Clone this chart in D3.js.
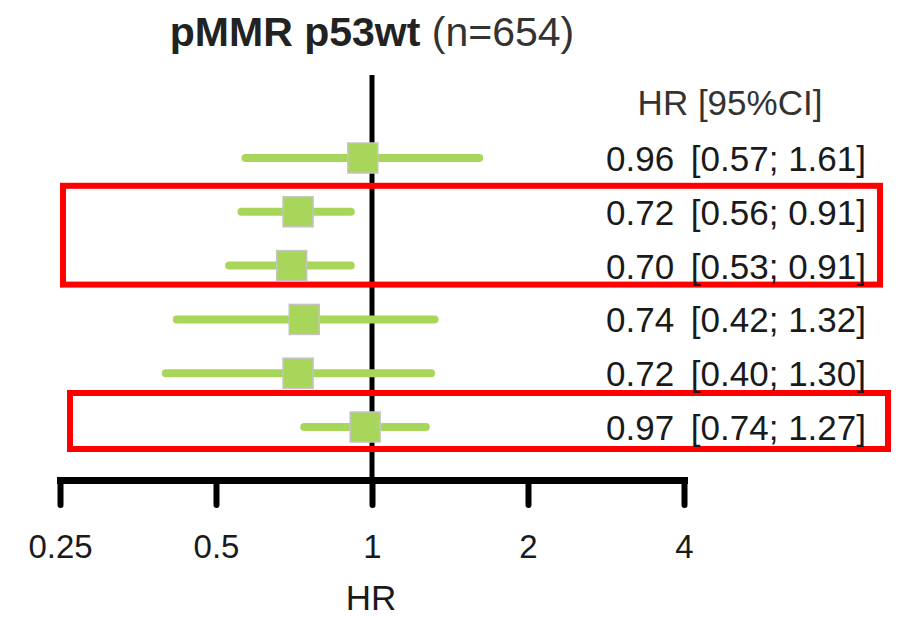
<!DOCTYPE html>
<html>
<head>
<meta charset="utf-8">
<script src="https://cdn.jsdelivr.net/npm/d3@7"></script>
<style>
    body { margin: 0; background: #fff; }
    svg text { font-family: "Liberation Sans", Arial, sans-serif; }
</style>
</head>
<body>
<svg id="forest" width="902" height="619"></svg>
<script>
// Data
const hr = [0.96, 0.72, 0.70, 0.74, 0.72, 0.97];
const ciLow = [0.57, 0.56, 0.53, 0.42, 0.40, 0.74];
const ciHigh = [1.61, 0.91, 0.91, 1.32, 1.30, 1.27];
const hrLabels = ['0.96', '0.72', '0.70', '0.74', '0.72', '0.97'];
const ciLabels = ['[0.57; 1.61]', '[0.56; 0.91]', '[0.53; 0.91]', '[0.42; 1.32]', '[0.40; 1.30]', '[0.74; 1.27]'];
const tickValues = [0.25, 0.5, 1, 2, 4];
const tickLabels = ['0.25', '0.5', '1', '2', '4'];
const highlightRows = [[1, 2], [5, 5]];

const COLOR_GREEN = '#a8d65a',
      COLOR_RED = '#ff0000',
      COLOR_TEXT = '#1a1a1a';

let d3svg = d3.select('#forest');

// Scales
let xScale = d3.scaleLog().base(2).domain([0.25, 4]).range([60, 684]);
let yScale = d3.scaleLinear().domain([0, hr.length - 1]).range([158, 427]);
let axisY = 480;

// Title
let title = d3svg.append('text')
    .attr('x', 372)
    .attr('y', 46)
    .attr('text-anchor', 'middle')
    .attr('font-size', 41)
    .attr('fill', '#222');
title.append('tspan').attr('font-weight', 'bold').text('pMMR p53wt');
title.append('tspan').attr('fill', '#333').text(' (n=654)');

// Reference line at HR = 1
d3svg.append('line')
    .attr('x1', xScale(1)).attr('x2', xScale(1))
    .attr('y1', 75).attr('y2', axisY)
    .attr('stroke', '#000')
    .attr('stroke-width', 5);

// Highlight boxes
d3svg.append('g').selectAll('rect')
    .data(highlightRows)
    .enter().append('rect')
    .attr('x', (d, i) => i === 0 ? 63 : 70)
    .attr('width', (d, i) => i === 0 ? 817 : 818)
    .attr('y', (d) => yScale(d[0]) - (d[0] === d[1] ? 34 : 26))
    .attr('height', (d) => yScale(d[1]) - yScale(d[0]) + (d[0] === d[1] ? 56 : 45))
    .attr('fill', 'none')
    .attr('stroke', COLOR_RED)
    .attr('stroke-width', 6);

// CI lines
let rows = d3svg.append('g').selectAll('g')
    .data(hr)
    .enter().append('g');

rows.append('line')
    .attr('x1', (d, i) => xScale(ciLow[i]))
    .attr('x2', (d, i) => xScale(ciHigh[i]))
    .attr('y1', (d, i) => yScale(i))
    .attr('y2', (d, i) => yScale(i))
    .attr('stroke', COLOR_GREEN)
    .attr('stroke-width', 8)
    .attr('stroke-linecap', 'round');

rows.append('rect')
    .attr('x', (d) => xScale(d) - 15)
    .attr('y', (d, i) => yScale(i) - 15)
    .attr('width', 30)
    .attr('height', 30)
    .attr('fill', COLOR_GREEN)
    .attr('stroke', '#c4c4c4')
    .attr('stroke-width', 1.5);

// Right text column
d3svg.append('text')
    .attr('x', 730)
    .attr('y', 115)
    .attr('text-anchor', 'middle')
    .attr('font-size', 35)
    .attr('fill', '#333')
    .text('HR [95%CI]');

rows.append('text')
    .attr('x', 606)
    .attr('y', (d, i) => yScale(i) + 13)
    .attr('font-size', 35)
    .attr('fill', COLOR_TEXT)
    .text((d, i) => hrLabels[i]);

rows.append('text')
    .attr('x', 866)
    .attr('y', (d, i) => yScale(i) + 13)
    .attr('text-anchor', 'end')
    .attr('font-size', 35)
    .attr('fill', COLOR_TEXT)
    .text((d, i) => ciLabels[i]);

// X axis
let xAxis = d3.axisBottom(xScale)
    .tickValues(tickValues)
    .tickFormat((d, i) => tickLabels[i])
    .tickSizeOuter(0)
    .tickSizeInner(25)
    .tickPadding(30);

let gAxis = d3svg.append('g')
    .attr('transform', 'translate(0,' + axisY + ')')
    .call(xAxis);

gAxis.select('.domain')
    .attr('stroke', '#000')
    .attr('stroke-width', 7)
    .attr('stroke-linecap', 'square');

gAxis.selectAll('.tick line')
    .attr('stroke', '#000')
    .attr('stroke-width', 6)
    .attr('stroke-linecap', 'round');

gAxis.selectAll('.tick text')
    .attr('font-size', 33)
    .attr('fill', COLOR_TEXT)
    .attr('font-family', '"Liberation Sans", Arial, sans-serif');

// Axis title
d3svg.append('text')
    .attr('x', 371)
    .attr('y', 610)
    .attr('text-anchor', 'middle')
    .attr('font-size', 35)
    .attr('fill', COLOR_TEXT)
    .text('HR');
</script>
</body>
</html>
